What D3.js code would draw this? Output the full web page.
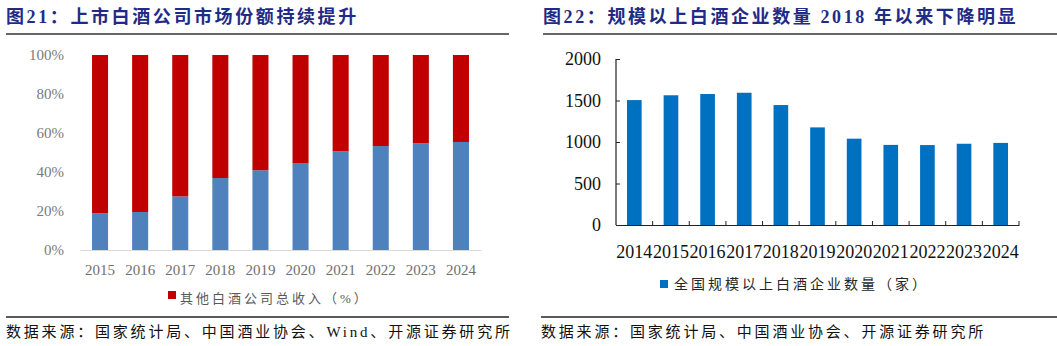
<!DOCTYPE html>
<html><head><meta charset="utf-8">
<script src="https://cdn.jsdelivr.net/npm/d3@7"></script>
<style>
html,body{margin:0;padding:0;background:#fff;}
svg{display:block;}
</style></head>
<body>
<svg id="c" width="1057" height="346"></svg>
<script>
// ---- data ----
const yearsLeft = ["2015","2016","2017","2018","2019","2020","2021","2022","2023","2024"];
const listedShare = [18.8, 19.5, 27.5, 36.9, 40.9, 44.6, 50.6, 53.3, 54.7, 55.4];
const otherShare = listedShare.map(v => 100 - v);
const leftTicks = [0, 20, 40, 60, 80, 100];

const yearsRight = ["2014","2015","2016","2017","2018","2019","2020","2021","2022","2023","2024"];
const firmCount = [1505, 1563, 1578, 1593, 1445, 1176, 1040, 965, 963, 979, 989];
const rightTicks = [0, 500, 1000, 1500, 2000];

const titleLeft = "图21：上市白酒公司市场份额持续提升";
const titleRight = "图22：规模以上白酒企业数量 2018 年以来下降明显";
const legendLeft = "其他白酒公司总收入（%）";
const legendRight = "全国规模以上白酒企业数量（家）";
const sourceLeft = "数据来源：国家统计局、中国酒业协会、Wind、开源证券研究所";
const sourceRight = "数据来源：国家统计局、中国酒业协会、开源证券研究所";

const svg = d3.select("#c");
const FONT = "'Liberation Serif','Noto Sans CJK SC',serif";
const TITLE_C = "#1F2B86";

// titles and rules
function header(x, x2, text) {
  svg.append("text").attr("x", x).attr("y", 23).text(text)
    .attr("font-family", FONT).attr("font-weight", "bold").attr("font-size", 18)
    .attr("letter-spacing", 2.6).attr("fill", TITLE_C);
  svg.append("line").attr("x1", x).attr("x2", x2).attr("y1", 34).attr("y2", 34)
    .attr("stroke", "#333").attr("stroke-width", 1.3);
}
function footer(x, x2, text) {
  svg.append("line").attr("x1", x).attr("x2", x2).attr("y1", 317).attr("y2", 317)
    .attr("stroke", "#222").attr("stroke-width", 1.3);
  svg.append("text").attr("x", x).attr("y", 337).text(text)
    .attr("font-family", FONT).attr("font-size", 15)
    .attr("letter-spacing", 2.8).attr("fill", "#111");
}
header(6, 509, titleLeft);
header(543, 1057, titleRight);
footer(6, 509, sourceLeft);
footer(541, 1057, sourceRight);

// ---- left chart ----
const xL = d3.scaleBand().domain(yearsLeft).range([80, 481]).paddingInner(0.6).paddingOuter(0.3);
const yL = d3.scaleLinear().domain([0, 100]).range([250, 55]);

const gL = svg.append("g");
gL.selectAll("rect.blue").data(yearsLeft).enter().append("rect")
  .attr("x", d => xL(d)).attr("width", xL.bandwidth())
  .attr("y", (d, i) => yL(listedShare[i])).attr("height", (d, i) => yL(0) - yL(listedShare[i]))
  .attr("fill", "#4F81BD");
gL.selectAll("rect.red").data(yearsLeft).enter().append("rect")
  .attr("x", d => xL(d)).attr("width", xL.bandwidth())
  .attr("y", (d, i) => yL(100)).attr("height", (d, i) => yL(listedShare[i]) - yL(100))
  .attr("fill", "#C00000");

const axL = svg.append("g").attr("transform", "translate(0,250)")
  .call(d3.axisBottom(xL).tickSize(0).tickPadding(14));
axL.select(".domain").attr("stroke", "#d9d9d9").attr("stroke-width", 1.2);
axL.selectAll("text").attr("font-family", FONT).attr("font-size", 15).attr("fill", "#6f6f6f");

const ayL = svg.append("g").attr("transform", "translate(80,0)")
  .call(d3.axisLeft(yL).tickValues(leftTicks).tickFormat(d => d + "%").tickSize(0).tickPadding(16));
ayL.select(".domain").remove();
ayL.selectAll("text").attr("font-family", FONT).attr("font-size", 15).attr("fill", "#7a7a7a");

// left legend
svg.append("rect").attr("x", 168).attr("y", 291).attr("width", 8).attr("height", 8).attr("fill", "#C00000");
svg.append("text").attr("x", 180).attr("y", 303).text(legendLeft)
  .attr("font-family", FONT).attr("font-size", 13).attr("letter-spacing", 3).attr("fill", "#595959");

// ---- right chart ----
const xR = d3.scaleBand().domain(yearsRight).range([616, 1019]).paddingInner(0.6).paddingOuter(0.3);
const yR = d3.scaleLinear().domain([0, 2000]).range([225, 59]);

svg.append("g").selectAll("rect").data(yearsRight).enter().append("rect")
  .attr("x", d => xR(d)).attr("width", xR.bandwidth())
  .attr("y", (d, i) => yR(firmCount[i])).attr("height", (d, i) => yR(0) - yR(firmCount[i]))
  .attr("fill", "#0070C0");

const axR = svg.append("g").attr("transform", "translate(0,225)")
  .call(d3.axisBottom(xR).tickSize(0).tickPadding(20));
axR.select(".domain").attr("stroke", "#222").attr("stroke-width", 1.2);
axR.selectAll("text").attr("font-family", FONT).attr("font-size", 18).attr("fill", "#111");
// band boundary ticks (inward)
const step = xR.step();
const bounds = yearsRight.map(d => xR(d) - (step - xR.bandwidth()) / 2).concat([1019]);
axR.selectAll("line.bt").data(bounds.slice(1)).enter().append("line")
  .attr("x1", d => d).attr("x2", d => d).attr("y1", 0).attr("y2", -4)
  .attr("stroke", "#222").attr("stroke-width", 1);

const ayR = svg.append("g").attr("transform", "translate(616,0)")
  .call(d3.axisLeft(yR).tickValues(rightTicks).tickFormat(d3.format("d")).tickSize(-4).tickPadding(15));
ayR.select(".domain").attr("stroke", "#222").attr("stroke-width", 1.2).attr("d", "M0,59V225");
ayR.selectAll(".tick line").attr("stroke", "#222");
ayR.selectAll("text").attr("font-family", FONT).attr("font-size", 18).attr("fill", "#111");

// right legend
svg.append("rect").attr("x", 660).attr("y", 280).attr("width", 8).attr("height", 8).attr("fill", "#0070C0");
svg.append("text").attr("x", 674).attr("y", 289).text(legendRight)
  .attr("font-family", FONT).attr("font-size", 14).attr("letter-spacing", 3).attr("fill", "#262626");
</script>
</body></html>
